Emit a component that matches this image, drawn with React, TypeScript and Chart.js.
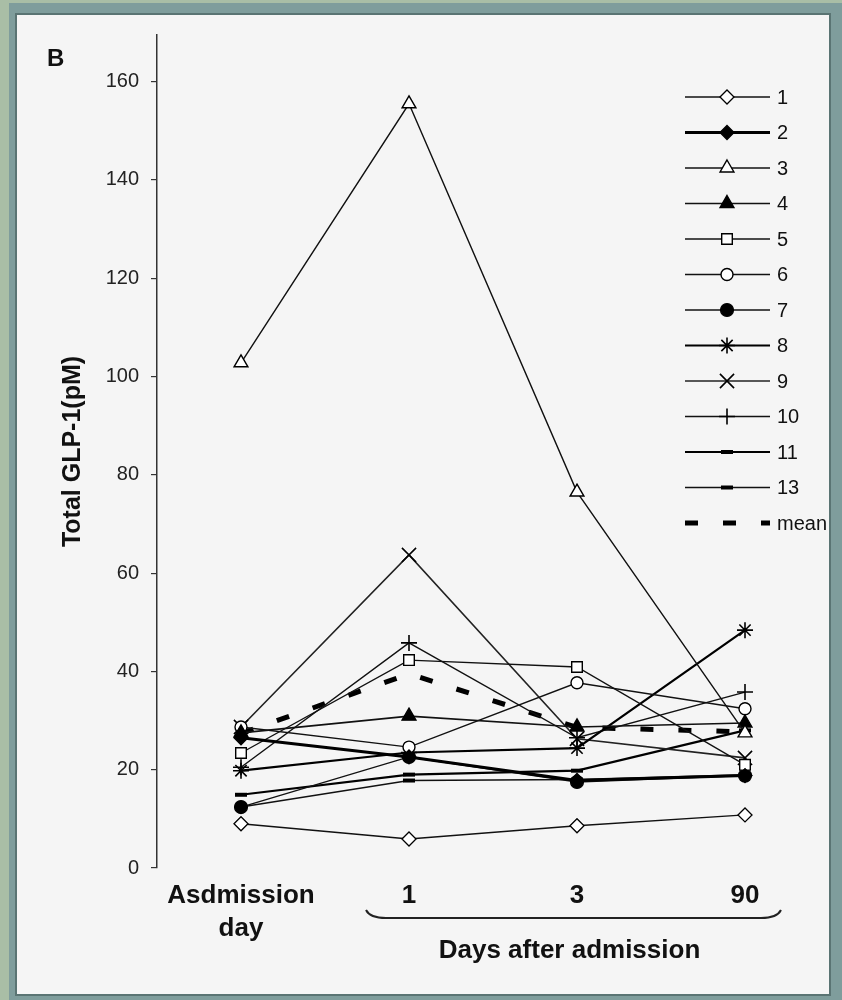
import React, { useEffect, useRef } from 'react';
import { Chart, registerables } from 'chart.js';
import { drawPoint } from 'chart.js/helpers';

Chart.register(...registerables);

// ---------- data ----------
const categories: (string | string[])[] = [['Asdmission', 'day'], '1', '3', '90'];
const seriesNames = ['1', '2', '3', '4', '5', '6', '7', '8', '9', '10', '11', '13'];
const s1 = [9.0, 5.9, 8.6, 10.8];
const s2 = [26.5, 22.6, 17.8, 18.8];
const s3 = [102.8, 155.5, 76.5, 27.5];
const s4 = [27.5, 30.9, 28.7, 29.5];
const s5 = [23.4, 42.3, 40.9, 21.0];
const s6 = [28.7, 24.6, 37.7, 32.4];
const s7 = [12.4, 22.6, 17.5, 18.8];
const s8 = [19.8, 23.5, 24.4, 48.4];
const s9 = [28.7, 63.7, 26.3, 22.4];
const s10 = [20.5, 45.8, 26.5, 35.8];
const s11 = [14.9, 19.0, 19.8, 28.0];
const s13 = [12.4, 17.8, 18.0, 19.0];
const meanValues = [27.4, 39.5, 28.6, 27.7];
const yTickValues = [0, 20, 40, 60, 80, 100, 120, 140, 160];
const seriesValues = [s1, s2, s3, s4, s5, s6, s7, s8, s9, s10, s11, s13];

const yTitle = 'Total GLP-1(pM)';
const xGroupTitle = 'Days after admission';
const panelLetter = 'B';
const meanLabel = 'mean';

// ---------- styles ----------
const FONT = '"Liberation Sans", Arial, sans-serif';
const styles = [
  { ps: 'rectRot', r: 7, fill: '#ffffff', lw: 1.4, pbw: 1.3, color: '#111' },
  { ps: 'rectRot', r: 7, fill: '#000000', lw: 3, pbw: 1.3, color: '#000' },
  { ps: 'triangle', r: 8, fill: '#ffffff', lw: 1.4, pbw: 1.4, color: '#111' },
  { ps: 'triangle', r: 8, fill: '#000000', lw: 1.6, pbw: 1.4, color: '#111' },
  { ps: 'rect', r: 7.5, fill: '#ffffff', lw: 1.4, pbw: 1.4, color: '#111' },
  { ps: 'circle', r: 6, fill: '#ffffff', lw: 1.4, pbw: 1.4, color: '#111' },
  { ps: 'circle', r: 6.5, fill: '#000000', lw: 1.4, pbw: 1.2, color: '#111' },
  { ps: 'star', r: 8, fill: '#000000', lw: 2.2, pbw: 1.6, color: '#000' },
  { ps: 'crossRot', r: 10, fill: '#000000', lw: 1.6, pbw: 1.6, color: '#222' },
  { ps: 'cross', r: 8, fill: '#000000', lw: 1.4, pbw: 1.6, color: '#111' },
  { ps: 'line', r: 6, fill: '#000000', lw: 2.2, pbw: 4, color: '#000' },
  { ps: 'line', r: 6, fill: '#000000', lw: 1.4, pbw: 4, color: '#111' },
];

const legendPlugin = {
  id: 'customDecor',
  afterDraw(chart: any) {
    const ctx = chart.ctx as CanvasRenderingContext2D;
    ctx.save();
    // panel letter
    ctx.fillStyle = '#111';
    ctx.font = `bold 24px ${FONT}`;
    ctx.textAlign = 'left';
    ctx.textBaseline = 'alphabetic';
    ctx.fillText(panelLetter, 47, 66);

    // brace under days-after labels
    const xs = chart.scales.x;
    const x1 = xs.getPixelForValue(1) - 43;
    const x2 = xs.getPixelForValue(3) + 36;
    ctx.strokeStyle = '#222';
    ctx.lineWidth = 2;
    ctx.beginPath();
    ctx.moveTo(x1, 910);
    ctx.quadraticCurveTo(x1 + 4, 918, x1 + 20, 918);
    ctx.lineTo(x2 - 20, 918);
    ctx.quadraticCurveTo(x2 - 4, 918, x2, 910);
    ctx.stroke();

    ctx.fillStyle = '#111';
    ctx.font = `bold 26px ${FONT}`;
    ctx.textAlign = 'center';
    ctx.fillText(xGroupTitle, (x1 + x2) / 2 - 4, 958);

    // legend
    const lx1 = 685, lx2 = 770, mx = 727, tx = 777;
    chart.data.datasets.forEach((ds: any, i: number) => {
      const y = i < 12 ? 97 + i * 35.5 : 523;
      ctx.save();
      ctx.strokeStyle = ds.borderColor;
      ctx.lineWidth = ds.borderWidth;
      if (ds.borderDash) ctx.setLineDash(ds.borderDash);
      ctx.beginPath();
      ctx.moveTo(lx1, y);
      ctx.lineTo(lx2, y);
      ctx.stroke();
      ctx.setLineDash([]);
      if (ds.pointRadius > 0) {
        ctx.fillStyle = ds.pointBackgroundColor;
        ctx.strokeStyle = '#000';
        ctx.lineWidth = ds.pointBorderWidth;
        drawPoint(ctx, { pointStyle: ds.pointStyle, radius: ds.pointRadius, borderWidth: ds.pointBorderWidth, rotation: 0 } as any, mx, y);
      }
      ctx.fillStyle = '#111';
      ctx.font = `20px ${FONT}`;
      ctx.textAlign = 'left';
      ctx.textBaseline = 'middle';
      ctx.fillText(ds.label, tx, y + 1);
      ctx.restore();
    });
    ctx.restore();
  },
};

export default function App() {
  const ref = useRef<HTMLCanvasElement>(null);

  useEffect(() => {
    if (!ref.current) return;
    const datasets: any[] = seriesValues.map((vals, i) => ({
      label: seriesNames[i],
      data: vals,
      borderColor: styles[i].color,
      borderWidth: styles[i].lw,
      pointStyle: styles[i].ps,
      pointRadius: styles[i].r,
      pointBackgroundColor: styles[i].fill,
      pointBorderColor: '#000',
      pointBorderWidth: styles[i].pbw,
      tension: 0,
      fill: false,
    }));
    datasets.push({
      label: meanLabel,
      data: meanValues,
      borderColor: '#000',
      borderWidth: 5,
      borderDash: [13, 25],
      pointRadius: 0,
      tension: 0,
      fill: false,
    });

    const chart = new Chart(ref.current, {
      type: 'line',
      data: { labels: categories as any, datasets },
      options: {
        responsive: false,
        animation: false,
        devicePixelRatio: 1,
        layout: { padding: { left: 0, top: 35, right: 13, bottom: 0 } },
        plugins: { legend: { display: false }, tooltip: { enabled: false } },
        scales: {
          x: {
            type: 'category',
            offset: true,
            grid: { display: false },
            border: { display: false },
            ticks: {
              autoSkip: false,
              maxRotation: 0,
              padding: 4,
              color: '#111',
              font: { family: FONT, size: 26, weight: 'bold', lineHeight: 1.25 },
            },
            afterFit: (s: any) => { s.height = 132; },
          },
          y: {
            min: 0,
            max: 169.5,
            afterBuildTicks: (s: any) => {
              s.ticks = yTickValues.map((v) => ({ value: v }));
            },
            afterFit: (s: any) => { s.width = 157; },
            grid: { drawOnChartArea: false, tickLength: 6, color: '#333', lineWidth: 1.2 },
            border: { color: '#333', width: 1.5 },
            ticks: { padding: 12, color: '#222', font: { family: FONT, size: 20 } },
            title: {
              display: true,
              text: yTitle,
              color: '#111',
              font: { family: FONT, size: 25, weight: 'bold', lineHeight: 1.2 },
              padding: { top: 58, bottom: 0 },
            },
          },
        },
      },
      plugins: [legendPlugin],
    });
    return () => chart.destroy();
  }, []);

  return (
    <div style={{ position: 'absolute', left: 0, top: 0, width: 842, height: 1000, background: '#a9bea6', overflow: 'hidden' }}>
      <div style={{ position: 'absolute', left: 9, top: 3, right: 0, bottom: 0, background: '#7f9d9c' }} />
      <div
        style={{
          position: 'absolute', left: 15, top: 13, width: 816, height: 983,
          boxSizing: 'border-box', border: '2px solid #5a7473', background: '#f5f5f5',
        }}
      />
      <canvas ref={ref} width={842} height={1000} style={{ position: 'absolute', left: 0, top: 0 }} />
    </div>
  );
}
